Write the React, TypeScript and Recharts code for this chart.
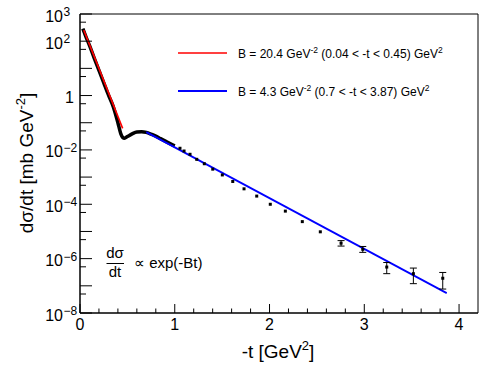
import React from 'react';
import { ComposedChart, Line, Scatter, XAxis, YAxis, ErrorBar, ReferenceArea } from 'recharts';

// dense measured curve (black)
const curveT = [0.03, 0.06, 0.1, 0.15, 0.2, 0.25, 0.3, 0.35, 0.4, 0.43, 0.45, 0.47, 0.5, 0.55, 0.6, 0.65, 0.7, 0.75, 0.8, 0.85, 0.9, 0.95, 1.0];
const curveV = [290, 155, 70, 24, 8.5, 3.0, 1.05, 0.4, 0.1, 0.04, 0.029, 0.027, 0.031, 0.039, 0.046, 0.047, 0.044, 0.038, 0.032, 0.026, 0.021, 0.017, 0.014];

// individual points (small errors, not visible)
const ptT = [1.055, 1.098, 1.161, 1.232, 1.312, 1.401, 1.502, 1.612, 1.731, 1.865, 2.008, 2.167, 2.346, 2.536];
const ptV = [1.15e-2, 9.1e-3, 6.9e-3, 4.5e-3, 3.1e-3, 1.96e-3, 1.2e-3, 6.9e-4, 3.7e-4, 2.0e-4, 1.0e-4, 5.6e-5, 2.3e-5, 9.7e-6];

// points with asymmetric errors (lower delta, upper delta)
const epT = [2.755, 2.984, 3.237, 3.518, 3.828];
const epV = [3.7e-6, 2.2e-6, 4.9e-7, 2.8e-7, 1.9e-7];
const epErrLo = [0.8e-6, 0.5e-6, 2.1e-7, 1.6e-7, 1.14e-7];
const epErrHi = [0.9e-6, 0.6e-6, 2.3e-7, 1.7e-7, 1.2e-7];

// fit lines
const redT = [0.04, 0.45];
const redV = [255, 0.062];
const blueT = [0.7, 3.87];
const blueV = [0.045, 5.4e-8];

const xTicks = [0, 0.2, 0.4, 0.6, 0.8, 1, 1.2, 1.4, 1.6, 1.8, 2, 2.2, 2.4, 2.6, 2.8, 3, 3.2, 3.4, 3.6, 3.8, 4];
const xLabels = [0, 1, 2, 3, 4];
const yTicks = [1e-8, 5e-8, 1e-7, 5e-7, 1e-6, 5e-6, 1e-5, 5e-5, 1e-4, 5e-4, 1e-3, 5e-3, 1e-2, 5e-2, 1e-1, 5e-1, 1, 5, 10, 50, 100, 500, 1000];
const yLabelValues = [1000, 100, 1, 1e-2, 1e-4, 1e-6, 1e-8];
const yLabelExps = ['3', '2', '', '\u22122', '\u22124', '\u22126', '\u22128'];

const curveData = curveT.map((t, i) => ({ t, v: curveV[i] }));
const pointData = ptT.map((t, i) => ({ t, v: ptV[i] }));
const errPointData = epT.map((t, i) => ({ t, v: epV[i], err: [epErrLo[i], epErrHi[i]] }));
const redData = redT.map((t, i) => ({ t, v: redV[i] }));
const blueData = blueT.map((t, i) => ({ t, v: blueV[i] }));

const FONT = '"Liberation Sans", Arial, Helvetica, sans-serif';

const XTick = (props: any) => {
  const { x, y, payload } = props;
  const v = payload.value;
  const major = Math.abs(v - Math.round(v)) < 1e-9;
  const len = major ? 9 : 4.5;
  return (
    <g>
      <line x1={x} x2={x} y1={y} y2={y - len} stroke="#000" strokeWidth={1} />
      {major && xLabels.includes(Math.round(v)) ? (
        <text x={x} y={y + 17} textAnchor="middle" fontSize={16} fontFamily={FONT} fill="#000">
          {String(Math.round(v))}
        </text>
      ) : null}
    </g>
  );
};

const YTick = (props: any) => {
  const { x, y, payload } = props;
  const v = payload.value;
  const lg = Math.log10(v);
  const decade = Math.abs(lg - Math.round(lg)) < 1e-6;
  const len = decade ? 12 : 6;
  const idx = yLabelValues.findIndex((w) => Math.abs(Math.log10(w) - lg) < 1e-6);
  let label: any = null;
  if (idx >= 0) {
    const e = yLabelExps[idx];
    if (e === '') {
      label = (
        <text x={x - 6} y={y + 7.5} textAnchor="end" fontSize={16} fontFamily={FONT} fill="#000">1</text>
      );
    } else {
      label = (
        <g>
          <text x={x - 17} y={y + 7.5} textAnchor="end" fontSize={16} fontFamily={FONT} fill="#000">10</text>
          <text x={x - 16.5} y={y + 2} textAnchor="start" fontSize={12} fontFamily={FONT} fill="#000">{e}</text>
        </g>
      );
    }
  }
  return (
    <g>
      <line x1={x} x2={x + len} y1={y} y2={y} stroke="#000" strokeWidth={1} />
      {label}
    </g>
  );
};

const Dot = (props: any) => {
  const { cx, cy } = props;
  if (cx == null || cy == null) return null;
  return <rect x={cx - 1.5} y={cy - 1.5} width={3} height={3} fill="#000" />;
};

export default function App() {
  return (
    <div style={{ position: 'absolute', left: 0, top: 0, width: 498, height: 365, background: '#fff' }}>
      <ComposedChart width={498} height={365} margin={{ top: 14, right: 20, left: 0, bottom: 0 }}>
        <XAxis
          dataKey="t"
          type="number"
          domain={[0, 4.2]}
          allowDataOverflow
          ticks={xTicks}
          interval={0}
          tickSize={0}
          tickMargin={0}
          tickLine={false}
          axisLine={{ stroke: '#000' }}
          tick={<XTick />}
          height={52}
        />
        <YAxis
          dataKey="v"
          type="number"
          scale="log"
          domain={[1e-8, 1000]}
          allowDataOverflow
          ticks={yTicks}
          interval={0}
          tickSize={0}
          tickMargin={0}
          tickLine={false}
          axisLine={{ stroke: '#000' }}
          tick={<YTick />}
          width={80}
        />
        <ReferenceArea x1={0} x2={4.2} y1={1e-8} y2={1000} fill="none" fillOpacity={0} stroke="#000" strokeWidth={1} />
        <Line data={curveData} dataKey="v" type="monotone" stroke="#000" strokeWidth={3.5} dot={false} isAnimationActive={false} />
        <Line data={redData} dataKey="v" type="linear" stroke="#ff0000" strokeWidth={1.6} dot={false} isAnimationActive={false} />
        <Line data={blueData} dataKey="v" type="linear" stroke="#0000ff" strokeWidth={1.8} dot={false} isAnimationActive={false} />
        <Scatter data={pointData} dataKey="v" shape={<Dot />} isAnimationActive={false} />
        <Scatter data={errPointData} dataKey="v" shape={<Dot />} isAnimationActive={false}>
          <ErrorBar dataKey="err" direction="y" width={3.5} stroke="#000" strokeWidth={1} />
        </Scatter>
      </ComposedChart>
      <svg width={498} height={365} style={{ position: 'absolute', left: 0, top: 0, pointerEvents: 'none' }}>
        {/* axis titles */}
        <text x={278} y={358} textAnchor="middle" fontSize={19} fontFamily={FONT} fill="#000">
          -t [GeV<tspan fontSize={13} dy={-8}>2</tspan><tspan dy={8}>]</tspan>
        </text>
        <text x={33} y={163} transform="rotate(-90 33 163)" textAnchor="middle" fontSize={19} fontFamily={FONT} fill="#000">
          dσ/dt [mb GeV<tspan fontSize={13} dy={-8}>-2</tspan><tspan dy={8}>]</tspan>
        </text>
        {/* legend */}
        <line x1={178} x2={227} y1={53} y2={53} stroke="#ff0000" strokeWidth={1.6} />
        <text x={238} y={58} fontSize={12} fontFamily={FONT} fill="#000">
          B = 20.4 GeV<tspan fontSize={8.5} dy={-5}>-2</tspan><tspan dy={5}> (0.04 &lt; -t &lt; 0.45) GeV</tspan><tspan fontSize={8.5} dy={-5}>2</tspan>
        </text>
        <line x1={178} x2={227} y1={91} y2={91} stroke="#0000ff" strokeWidth={1.8} />
        <text x={238} y={96} fontSize={12} fontFamily={FONT} fill="#000">
          B = 4.3 GeV<tspan fontSize={8.5} dy={-5}>-2</tspan><tspan dy={5}> (0.7 &lt; -t &lt; 3.87) GeV</tspan><tspan fontSize={8.5} dy={-5}>2</tspan>
        </text>
        {/* formula */}
        <text x={115} y={258} textAnchor="middle" fontSize={15} fontFamily={FONT} fill="#000">dσ</text>
        <line x1={106.5} x2={124} y1={263.5} y2={263.5} stroke="#000" strokeWidth={1} />
        <text x={115} y={277} textAnchor="middle" fontSize={15} fontFamily={FONT} fill="#000">dt</text>
        <text x={134} y={268} fontSize={15} fontFamily={FONT} fill="#000">∝ exp(-Bt)</text>
      </svg>
    </div>
  );
}
